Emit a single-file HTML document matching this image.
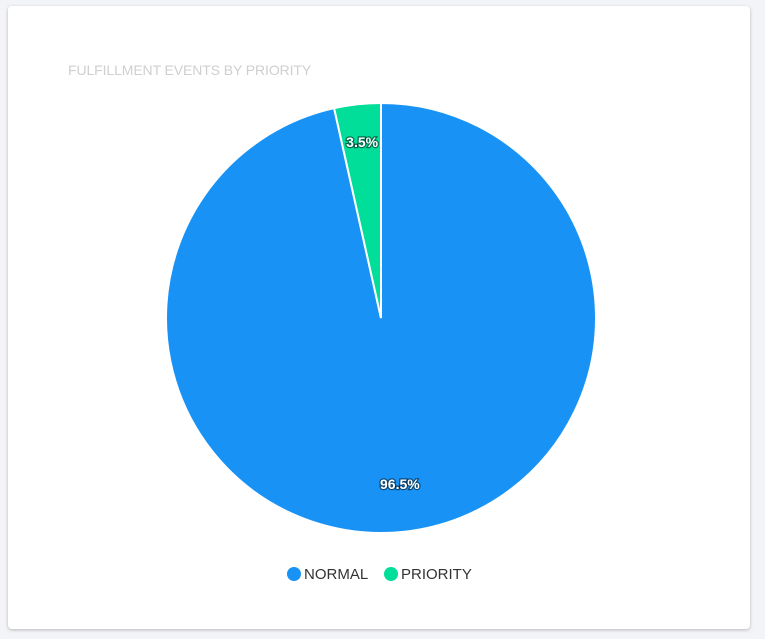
<!DOCTYPE html>
<html><head><meta charset="utf-8"><style>
body{margin:0;width:765px;height:639px;background:#f3f4f7;font-family:"Liberation Sans",sans-serif;overflow:hidden}
#card{position:absolute;left:8px;top:6px;width:742px;height:623px;background:#fff;border-radius:4px;box-shadow:0 1px 3px rgba(0,0,0,0.25)}
#title{position:absolute;left:68px;top:62px;font-size:14px;color:#cfcfcf;letter-spacing:-0.1px}
svg{position:absolute;left:0;top:0}
</style></head><body>
<div id="card"></div>
<div id="title">FULFILLMENT EVENTS BY PRIORITY</div>
<svg id="chart" width="765" height="639"></svg>
<script>
const categories=["NORMAL","PRIORITY"];
const values=[96.5,3.5];
const colors=["#1893f5","#00de9a"];
const svg=document.getElementById('chart');const NS='http://www.w3.org/2000/svg';
const cx=381,cy=318,r=215;
const total=values.reduce((a,b)=>a+b,0);
let a0=0;
function pt(a,rr){return [cx+rr*Math.sin(a),cy-rr*Math.cos(a)];}
values.forEach((v,i)=>{
  const a1=a0+v/total*2*Math.PI;
  const p0=pt(a0,r),p1=pt(a1,r);
  const p=document.createElementNS(NS,'path');
  p.setAttribute('d',`M${cx},${cy}L${p0[0]},${p0[1]}A${r},${r} 0 ${a1-a0>Math.PI?1:0} 1 ${p1[0]},${p1[1]}Z`);
  p.setAttribute('fill',colors[i]);p.setAttribute('stroke','#fff');p.setAttribute('stroke-width','2');
  
  
  svg.appendChild(p);
  const m=pt((a0+a1)/2,r*0.8);
  const t=document.createElementNS(NS,'text');
  t.setAttribute('x',m[0]);t.setAttribute('y',m[1]);t.setAttribute('text-anchor','middle');
  t.setAttribute('font-size','14');t.setAttribute('font-weight','bold');t.setAttribute('fill','#fff');
  t.setAttribute('style','paint-order:stroke;stroke:rgba(0,0,0,0.5);stroke-width:2.5px');
  t.textContent=v.toFixed(1)+'%';
  
  
  svg.appendChild(t);
  a0=a1;
});
let lx=294;
categories.forEach((c,i)=>{
  const g=document.createElementNS(NS,'g');
  
  
  const ci=document.createElementNS(NS,'circle');
  ci.setAttribute('cx',lx);ci.setAttribute('cy',574);ci.setAttribute('r',7);ci.setAttribute('fill',colors[i]);
  g.appendChild(ci);
  const t=document.createElementNS(NS,'text');
  t.setAttribute('x',lx+10);t.setAttribute('y',579);t.setAttribute('font-size','15');t.setAttribute('fill','#333');
  t.textContent=c;g.appendChild(t);svg.appendChild(g);
  lx+=97;
});
</script>
</body></html>
